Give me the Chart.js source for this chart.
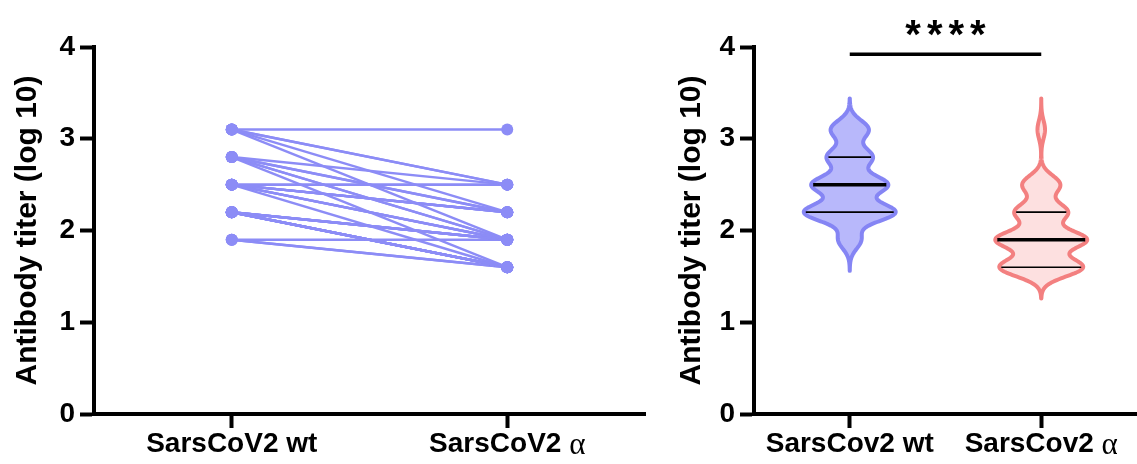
<!DOCTYPE html>
<html>
<head>
<meta charset="utf-8">
<script src="https://cdn.jsdelivr.net/npm/chart.js@4.4.1/dist/chart.umd.min.js"></script>
<style>
  html, body { margin: 0; padding: 0; background: #fff; }
  #wrap { position: relative; width: 1137px; height: 464px; }
  #pairedChart { position: absolute; left: 0; top: 0; }
  #violinChart { position: absolute; left: 655px; top: 0; }
</style>
</head>
<body>
<div id="wrap">
  <canvas id="pairedChart" width="655" height="464"></canvas>
  <canvas id="violinChart" width="482" height="464"></canvas>
</div>
<script>
// Datos: título de anticuerpos (log 10) por sujeto, pareados wt -> alfa
const wtValues = [
  3.1, 3.1, 3.1, 3.1, 3.1,
  2.8, 2.8, 2.8, 2.8, 2.8, 2.8,
  2.5, 2.5, 2.5, 2.5, 2.5, 2.5, 2.5, 2.5, 2.5, 2.5,
  2.2, 2.2, 2.2, 2.2, 2.2, 2.2, 2.2, 2.2, 2.2, 2.2, 2.2, 2.2,
  1.9, 1.9, 1.9
];
const alphaValues = [
  3.1, 2.5, 2.5, 2.2, 1.9,
  2.5, 2.2, 2.2, 1.9, 1.9, 1.6,
  2.5, 2.5, 2.2, 2.2, 2.2, 2.2, 1.9, 1.9, 1.9, 1.6,
  1.9, 1.9, 1.9, 1.9, 1.9, 1.6, 1.6, 1.6, 1.6, 1.6, 1.6, 1.6,
  1.9, 1.6, 1.6
];
const pairedLabels = ["SarsCoV2 wt", "SarsCoV2 "];
const violinLabels = ["SarsCov2 wt", "SarsCov2 "];
const alphaSymbol = "\u03b1";
const yTicks = [0, 1, 2, 3, 4];
const yTitle = "Antibody titer (log 10)";
const significance = "****";
const significanceLevel = 3.92;

const boldFont = "'Liberation Sans', Arial, sans-serif";
const serifFont = "'Liberation Serif', 'Times New Roman', serif";
const bandwidth = 0.1;     // ancho de banda del KDE
const violinHalf = 0.24;   // medio ancho del violín en unidades de categoría

function quantile(values, q) {
  const s = [...values].sort((a, b) => a - b);
  const pos = (s.length - 1) * q;
  const lo = Math.floor(pos), hi = Math.ceil(pos);
  return s[lo] + (s[hi] - s[lo]) * (pos - lo);
}

function kde(values, t) {
  let sum = 0;
  values.forEach(v => {
    const u = (t - v) / bandwidth;
    sum += Math.exp(-0.5 * u * u);
  });
  return sum;
}

// Etiquetas del eje x (con la alfa en letra serif)
function drawCategoryLabels(chart, labels) {
  const { ctx, scales: { x } } = chart;
  ctx.save();
  ctx.fillStyle = "#000";
  ctx.textBaseline = "alphabetic";
  ctx.textAlign = "left";
  labels.forEach((label, i) => {
    const cx = x.getPixelForValue(i);
    ctx.font = "bold 28px " + boldFont;
    const w1 = ctx.measureText(label).width;
    let w2 = 0;
    if (i === 1) {
      ctx.font = "31px " + serifFont;
      w2 = ctx.measureText(alphaSymbol).width;
    }
    const start = cx - (w1 + w2) / 2;
    ctx.font = "bold 28px " + boldFont;
    ctx.fillText(label, start, 452);
    if (i === 1) {
      ctx.font = "31px " + serifFont;
      ctx.fillText(alphaSymbol, start + w1, 454);
    }
  });
  ctx.restore();
}

function axisOptions(leftWidth, titlePad) {
  return {
    y: {
      min: 0,
      max: 4,
      afterBuildTicks: s => { s.ticks = yTicks.map(v => ({ value: v })); },
      afterFit: s => { s.width = leftWidth; },
      ticks: { color: "#000", padding: 5, font: { family: boldFont, size: 28, weight: "bold" } },
      grid: { drawOnChartArea: false, tickLength: 14, tickWidth: 4, color: "#000" },
      border: { display: true, width: 4, color: "#000" },
      title: {
        display: true,
        text: yTitle,
        color: "#000",
        padding: { top: titlePad, bottom: 0 },
        font: { family: boldFont, size: 30, weight: "bold" },
      },
    },
  };
}

// Gráfico izquierdo: líneas pareadas
const pairColor = "#8c8cf6";
const pairedScales = axisOptions(94, 10);
pairedScales.x = {
  type: "linear",
  min: -0.5,
  max: 1.5,
  afterBuildTicks: s => { s.ticks = [{ value: 0 }, { value: 1 }]; },
  afterFit: s => { s.height = 50; },
  ticks: { display: false },
  grid: { drawOnChartArea: false, tickLength: 14, tickWidth: 4, color: "#000" },
  border: { display: true, width: 4, color: "#000" },
};

new Chart(document.getElementById("pairedChart"), {
  type: "line",
  data: {
    datasets: wtValues.map((v, i) => ({
      data: [{ x: 0, y: v }, { x: 1, y: alphaValues[i] }],
      borderColor: pairColor,
      backgroundColor: pairColor,
      borderWidth: 2.5,
      pointRadius: 6,
      pointBorderWidth: 0,
    })),
  },
  options: {
    responsive: false,
    animation: false,
    layout: { padding: { top: 47, right: 10, left: 0, bottom: 0 } },
    plugins: { legend: { display: false }, tooltip: { enabled: false } },
    scales: pairedScales,
  },
  plugins: [{ id: "pairLabels", afterDraw: c => drawCategoryLabels(c, pairedLabels) }],
});

// Gráfico derecho: violines
const violinStyles = [
  { fill: "rgba(160, 160, 250, 0.75)", stroke: "#8585f4" },
  { fill: "#fde0e0", stroke: "#f38080" },
];

const violinPlugin = {
  id: "violin",
  afterDatasetsDraw(chart) {
    const { ctx, scales: { x, y } } = chart;
    ctx.save();
    chart.data.datasets.forEach((ds, i) => {
      const vals = ds.data.map(p => p.y);
      const lo = Math.min(...vals) - 0.34;
      const hi = Math.max(...vals) + 0.34;
      const grid = [];
      for (let k = 0; k <= 240; k++) {
        const t = lo + (hi - lo) * k / 240;
        grid.push([t, kde(vals, t)]);
      }
      const maxD = Math.max(...grid.map(g => g[1]));
      const cx = x.getPixelForValue(i);
      const halfW = x.getPixelForValue(i + violinHalf) - cx;
      const st = violinStyles[i];

      ctx.beginPath();
      grid.forEach(([t, d], k) => {
        const px = cx + d / maxD * halfW, py = y.getPixelForValue(t);
        if (k === 0) ctx.moveTo(px, py); else ctx.lineTo(px, py);
      });
      for (let k = grid.length - 1; k >= 0; k--) {
        const [t, d] = grid[k];
        ctx.lineTo(cx - d / maxD * halfW, y.getPixelForValue(t));
      }
      ctx.closePath();
      ctx.fillStyle = st.fill;
      ctx.fill();
      ctx.lineWidth = 4;
      ctx.lineJoin = "round";
      ctx.strokeStyle = st.stroke;
      ctx.stroke();

      // mediana y cuartiles
      [[0.25, 1.6], [0.5, 3.5], [0.75, 1.6]].forEach(([q, lw]) => {
        const qv = quantile(vals, q);
        const w = kde(vals, qv) / maxD * halfW - 2;
        const py = y.getPixelForValue(qv);
        ctx.beginPath();
        ctx.moveTo(cx - w, py);
        ctx.lineTo(cx + w, py);
        ctx.lineWidth = lw;
        ctx.strokeStyle = "#000";
        ctx.stroke();
      });
    });
    ctx.restore();
  },
  afterDraw(chart) {
    const { ctx, scales: { x, y } } = chart;
    ctx.save();
    const py = y.getPixelForValue(significanceLevel);
    ctx.beginPath();
    ctx.moveTo(x.getPixelForValue(0), py);
    ctx.lineTo(x.getPixelForValue(1), py);
    ctx.lineWidth = 3.5;
    ctx.strokeStyle = "#000";
    ctx.stroke();
    ctx.fillStyle = "#000";
    ctx.font = "bold 40px " + boldFont;
    ctx.letterSpacing = "6px";
    ctx.textAlign = "center";
    ctx.textBaseline = "alphabetic";
    ctx.fillText(significance, (x.getPixelForValue(0) + x.getPixelForValue(1)) / 2 + 3, 48);
    ctx.restore();
    drawCategoryLabels(chart, violinLabels);
  },
};

const violinScales = axisOptions(99, 19);
violinScales.x = {
  type: "category",
  offset: true,
  afterFit: s => { s.height = 50; },
  ticks: { display: false },
  grid: { drawOnChartArea: false, offset: false, tickLength: 14, tickWidth: 4, color: "#000" },
  border: { display: true, width: 4, color: "#000" },
};

new Chart(document.getElementById("violinChart"), {
  type: "line",
  data: {
    labels: violinLabels,
    datasets: [wtValues, alphaValues].map((vals, i) => ({
      data: vals.map(v => ({ x: violinLabels[i], y: v })),
      showLine: false,
      pointRadius: 0,
    })),
  },
  options: {
    responsive: false,
    animation: false,
    layout: { padding: { top: 47, right: 0, left: 0, bottom: 0 } },
    plugins: { legend: { display: false }, tooltip: { enabled: false } },
    scales: violinScales,
  },
  plugins: [violinPlugin],
});
</script>
</body>
</html>
